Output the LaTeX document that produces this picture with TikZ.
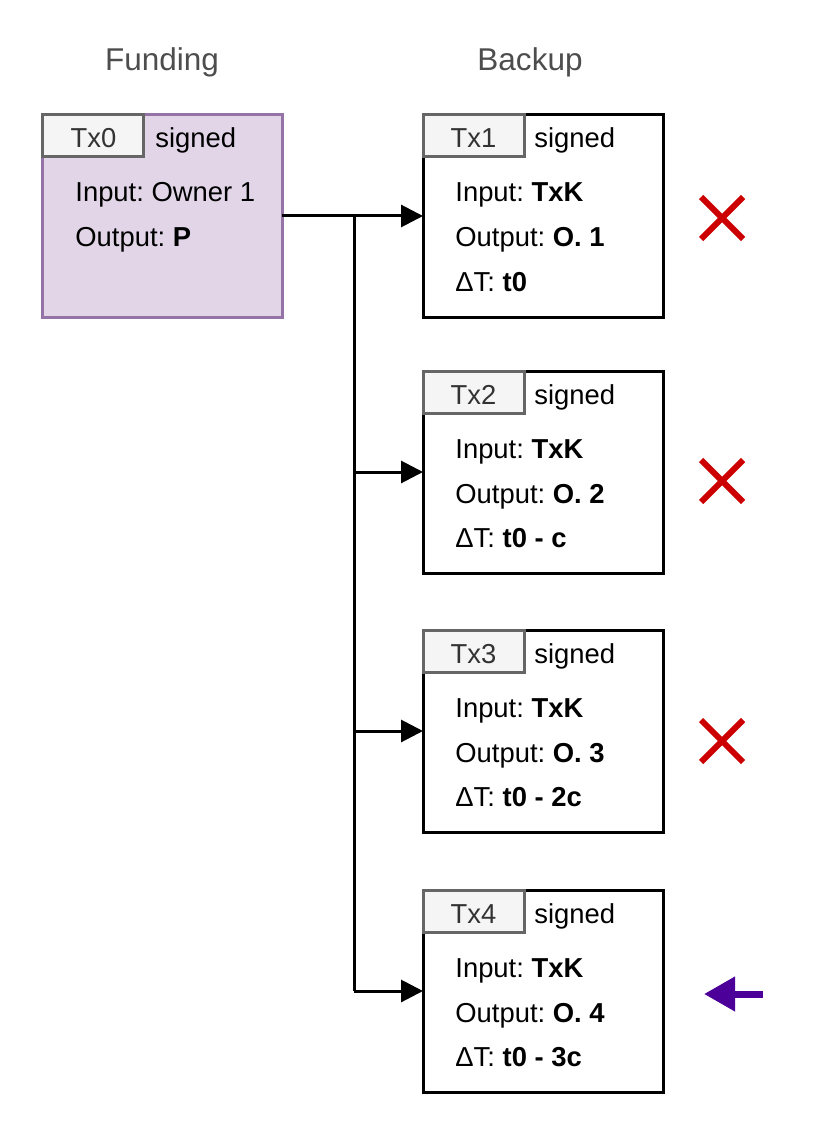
\documentclass[tikz,border=0pt]{standalone}
\usepackage{fontspec}
\setmainfont{Liberation Sans}
\usetikzlibrary{arrows.meta,shapes.misc}
\definecolor{fundfill}{HTML}{E1D5E7}
\definecolor{funddraw}{HTML}{9673A6}
\definecolor{lblfill}{HTML}{F5F5F5}
\definecolor{lbldraw}{HTML}{666666}
\definecolor{lbltext}{HTML}{333333}
\definecolor{titlegray}{HTML}{4D4D4D}
\definecolor{crossred}{HTML}{CC0000}
\definecolor{pickpurple}{HTML}{4C0099}
\frenchspacing

\begin{document}
\begin{tikzpicture}[x=0.5pt,y=-0.5pt,font=\fontsize{13.7}{16}\selectfont,
    txbox/.style={draw=black,line width=1.5pt,fill=white,minimum width=120pt,minimum height=101pt,anchor=north west,inner sep=0pt,outer sep=0pt},
    fundbox/.style={txbox,draw=funddraw,fill=fundfill},
    lblbox/.style={draw=lbldraw,fill=lblfill,line width=1.5pt,minimum width=50.5pt,minimum height=21pt,anchor=north west,inner sep=0pt,outer sep=0pt},
    lbltxt/.style={anchor=base,text=lbltext,inner sep=0pt},
    txt/.style={anchor=base west,inner sep=0pt},
    title/.style={anchor=base,text=titlegray,font=\fontsize{15.75}{18}\selectfont,inner sep=0pt},
    conn/.style={-{Triangle[length=11pt,width=11pt]},line width=1.5pt},
    nope/.style={cross out,draw=crossred,line width=3pt,minimum size=18pt,inner sep=0pt},
    pick/.style={-{Triangle[length=15.5pt,width=16.5pt]},draw=pickpurple,line width=3.5pt}]
  \useasboundingbox (0,0) rectangle (822,1134);

  % column titles
  \node[title](funding)at(162, 71){Funding};
  \node[title](backup)at(530, 71){Backup};

  % funding tx
  \node[fundbox](tx0)at(42, 115){};
  \node[lblbox](tx0lbl)at(42, 115){};
  \node[lbltxt](tx0name)at(93.5, 148){Tx0};
  \node[txt](tx0sig)at(155, 148){signed};
  \node[txt](tx0in)at(75, 202){Input: Owner 1};
  \node[txt](tx0out)at(75, 247){Output: \textbf{P}};

  % backup txs
  \node[txbox](tx1)at(423, 115){};
  \node[lblbox](tx1lbl)at(423, 115){};
  \node[lbltxt](tx1name)at(473.5, 148){Tx1};
  \node[txt](tx1sig)at(534, 148){signed};
  \node[txt](tx1in)at(455, 202){Input: \textbf{TxK}};
  \node[txt](tx1out)at(455, 247){Output: \textbf{O. 1}};
  \node[txt](tx1dt)at(455, 291){ΔT: \textbf{t0}};

  \node[txbox](tx2)at(423, 371){};
  \node[lblbox](tx2lbl)at(423, 371){};
  \node[lbltxt](tx2name)at(473.5, 404){Tx2};
  \node[txt](tx2sig)at(534, 404){signed};
  \node[txt](tx2in)at(455, 458){Input: \textbf{TxK}};
  \node[txt](tx2out)at(455, 503){Output: \textbf{O. 2}};
  \node[txt](tx2dt)at(455, 547){ΔT: \textbf{t0 - c}};

  \node[txbox](tx3)at(423, 630){};
  \node[lblbox](tx3lbl)at(423, 630){};
  \node[lbltxt](tx3name)at(473.5, 663){Tx3};
  \node[txt](tx3sig)at(534, 663){signed};
  \node[txt](tx3in)at(455, 717){Input: \textbf{TxK}};
  \node[txt](tx3out)at(455, 762){Output: \textbf{O. 3}};
  \node[txt](tx3dt)at(455, 806){ΔT: \textbf{t0 - 2c}};

  \node[txbox](tx4)at(423, 890){};
  \node[lblbox](tx4lbl)at(423, 890){};
  \node[lbltxt](tx4name)at(473.5, 923){Tx4};
  \node[txt](tx4sig)at(534, 923){signed};
  \node[txt](tx4in)at(455, 977){Input: \textbf{TxK}};
  \node[txt](tx4out)at(455, 1022){Output: \textbf{O. 4}};
  \node[txt](tx4dt)at(455, 1066){ΔT: \textbf{t0 - 3c}};

  % spending paths
  \coordinate(fork)at(354, 216);
  \draw[conn](tx0.east) -- (tx1.west);
  \draw[line width=1.5pt](fork) -- (fork |- tx4.west);
  \draw[conn](fork |- tx2.west) -- (tx2.west);
  \draw[conn](fork |- tx3.west) -- (tx3.west);
  \draw[conn](fork |- tx4.west) -- (tx4.west);

  % marks
  \node[nope](x1)at(722, 218){};
  \node[nope](x2)at(722, 481){};
  \node[nope](x3)at(722, 741){};
  \coordinate(pickstart)at(763, 994);
  \coordinate(pickend)at(704, 994);
  \draw[pick](pickstart) -- (pickend);
\end{tikzpicture}
\end{document}
